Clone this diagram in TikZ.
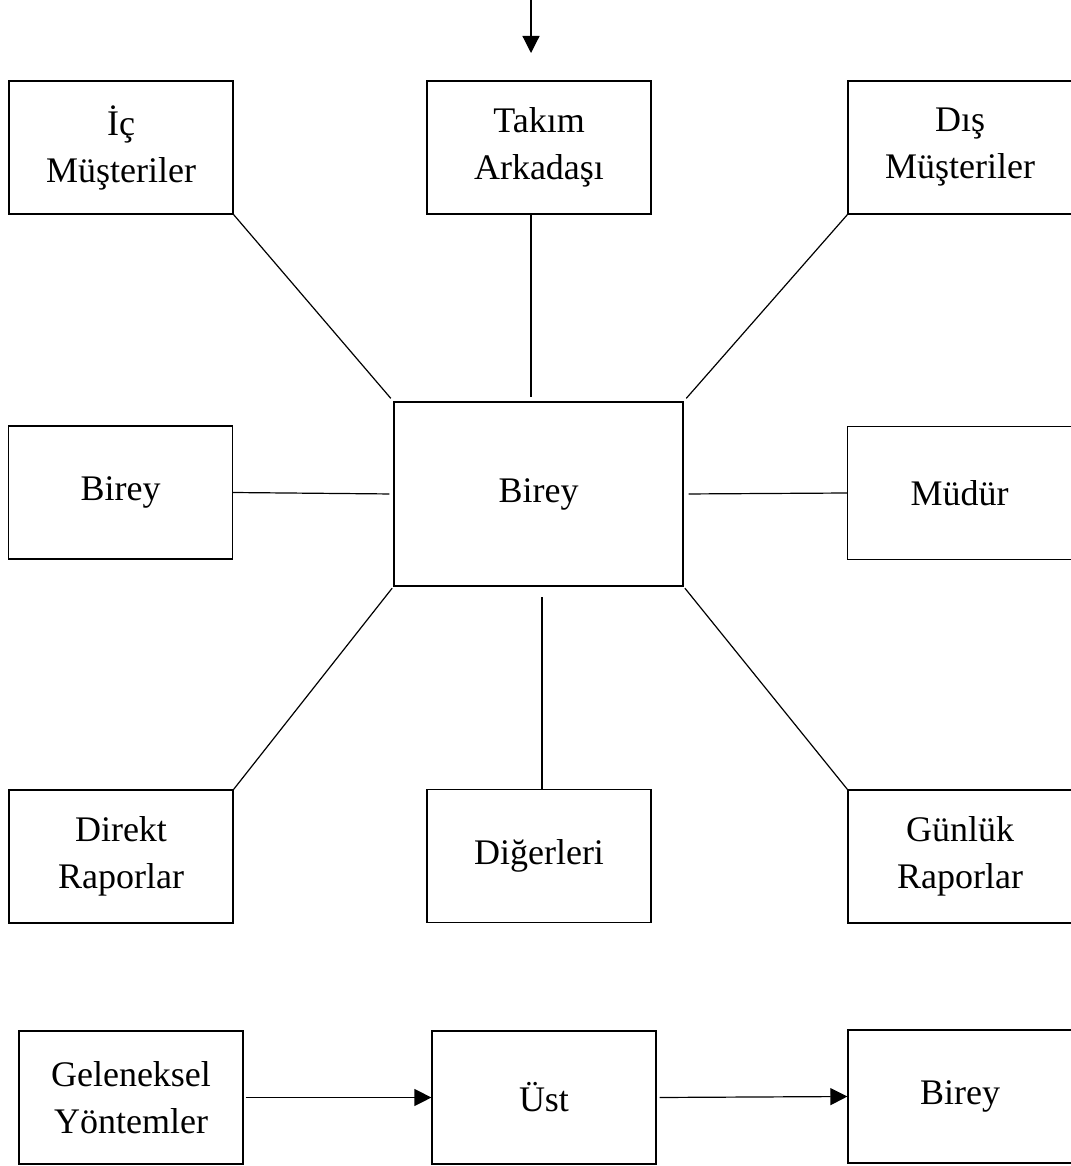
\documentclass[tikz,border=0pt]{standalone}
\usepackage{fontspec}
\setmainfont{Liberation Serif}
\usetikzlibrary{arrows.meta}

\begin{document}
\begin{tikzpicture}[x=0.5pt, y=-0.5pt, line width=0.6pt,
    kutu/.style={draw, align=center, inner sep=0pt, minimum width=112pt, minimum height=66.5pt, font=\fontsize{18}{23.5}\selectfont},
    ok/.style={-{Triangle[width=8.5pt, length=8.5pt]}}]
            \useasboundingbox (0,0) rectangle (1070,1166);

            % Ust sira
            \node[kutu] (ic) at (121, 147.5) {İç\\Müşteriler};
            \node[kutu] (takim) at (539, 147.5) {Takım\\Arkadaşı};
            \node[kutu] (dis) at (960, 147.5) {Dış\\Müşteriler};

            % Orta sira
            \node[kutu] (bireySol) at (120.5, 492.5) {Birey};
            \node[kutu, minimum width=144.5pt, minimum height=92pt] (merkez) at (538.5, 494) {Birey};
            \node[kutu] (mudur) at (959.5, 493) {Müdür};

            % Alt sira
            \node[kutu] (direkt) at (121, 856.5) {Direkt\\Raporlar};
            \node[kutu] (digerleri) at (539, 856) {Diğerleri};
            \node[kutu] (gunluk) at (960, 856.5) {Günlük\\Raporlar};

            % Akis
            \node[kutu] (geleneksel) at (131, 1097.5) {Geleneksel\\Yöntemler};
            \node[kutu] (ust) at (544, 1097.5) {Üst};
            \node[kutu] (bireyAlt) at (960, 1096.5) {Birey};

            % Giris oku
            \coordinate (girisUst) at (531, 0);
            \coordinate (girisAlt) at (531, 53);
            \draw[ok] (girisUst) -- (girisAlt);

            % Baglantilar
            \draw[-, shorten >=2pt] (ic.south east) -- (merkez.north west);
            \draw[-] ([xshift=-4pt]takim.south) -- ([xshift=-3.75pt, yshift=2pt]merkez.north);
            \draw[-, shorten >=2pt] (dis.south west) -- (merkez.north east);
            \draw[-, shorten >=2pt] (bireySol.east) -- (merkez.west);
            \draw[-, shorten >=2.5pt] (mudur.west) -- (merkez.east);
            \draw[-, shorten >=1pt] (direkt.north east) -- (merkez.south west);
            \draw[-] ([xshift=1.5pt]digerleri.north) -- ([xshift=1.75pt, yshift=-5pt]merkez.south);
            \draw[-, shorten >=1pt] (gunluk.north west) -- (merkez.south east);
            \draw[ok, shorten <=1pt] (geleneksel.east) -- (ust.west);
            \draw[ok, shorten <=1.5pt] (ust.east) -- (bireyAlt.west);
        \end{tikzpicture}
\end{document}
